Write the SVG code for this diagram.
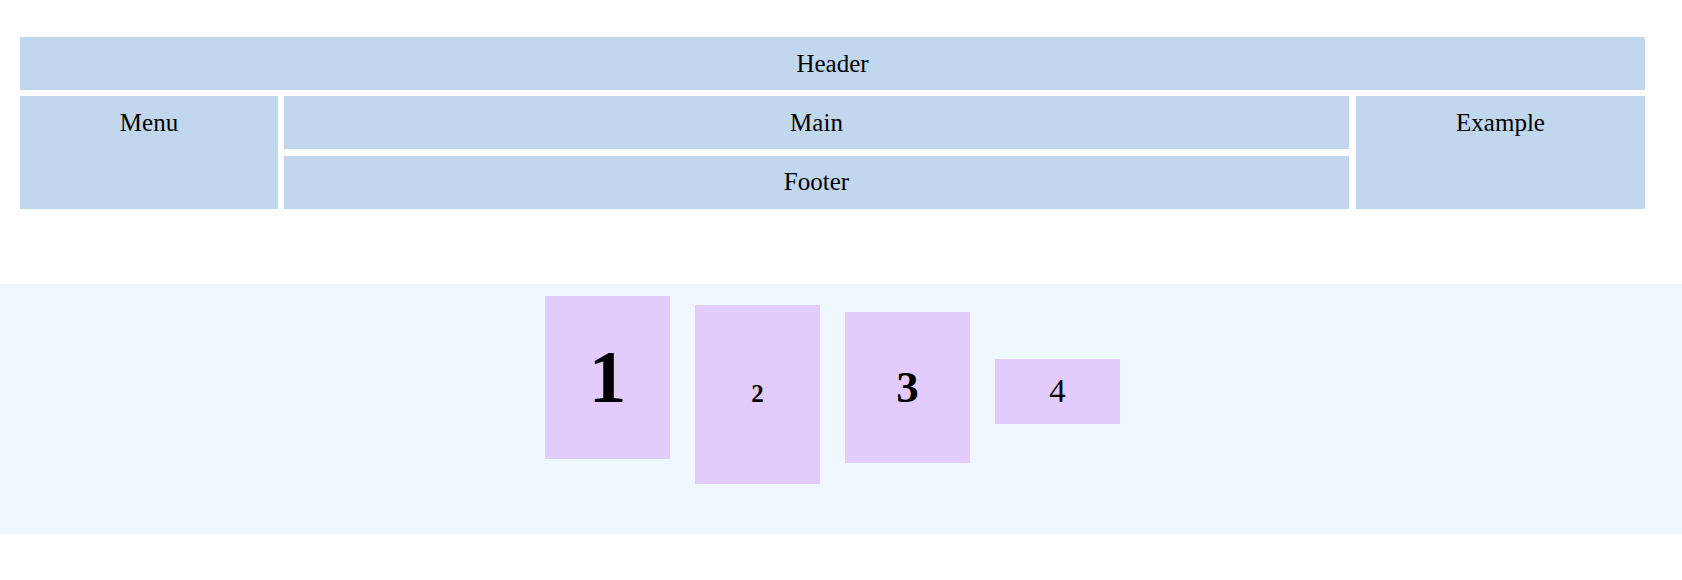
<svg xmlns="http://www.w3.org/2000/svg" width="1682" height="580" viewBox="0 0 1682 580">
<style>
.area{fill:#c0d7ed}
.item{fill:#e2ccfe}
.lbl{font-family:"Liberation Serif","Times New Roman",serif;font-size:25px;fill:#000;text-anchor:middle}
.num{font-family:"Liberation Serif","Times New Roman",serif;fill:#000;text-anchor:middle}
</style>
<rect x="0" y="0" width="1682" height="580" fill="#ffffff"/>
<g id="header"><rect class="area" x="20" y="37" width="1625" height="53"/><text class="lbl" x="832.5" y="71.5">Header</text></g>
<g id="menu"><rect class="area" x="20" y="96" width="258" height="113"/><text class="lbl" x="149" y="130.5">Menu</text></g>
<g id="main"><rect class="area" x="284" y="96" width="1065" height="53"/><text class="lbl" x="816.5" y="130.5">Main</text></g>
<g id="footer"><rect class="area" x="284" y="156" width="1065" height="53"/><text class="lbl" x="816.5" y="190">Footer</text></g>
<g id="example"><rect class="area" x="1356" y="96" width="289" height="113"/><text class="lbl" x="1500.5" y="130.5">Example</text></g>
<g id="flexband"><rect x="0" y="284" width="1682" height="250" fill="#eef6fe"/></g>
<g id="item1"><rect class="item" x="545" y="296" width="125" height="163"/><text class="num" x="607.5" y="402" font-size="75" font-weight="bold">1</text></g>
<g id="item2"><rect class="item" x="695" y="305" width="125" height="179"/><text class="num" x="757.5" y="402" font-size="25" font-weight="bold">2</text></g>
<g id="item3"><rect class="item" x="845" y="312" width="125" height="151"/><text class="num" x="907.5" y="402" font-size="45" font-weight="bold">3</text></g>
<g id="item4"><rect class="item" x="995" y="359" width="125" height="65"/><text class="num" x="1057.5" y="402" font-size="33">4</text></g>
<g id="connectors"></g>
</svg>
